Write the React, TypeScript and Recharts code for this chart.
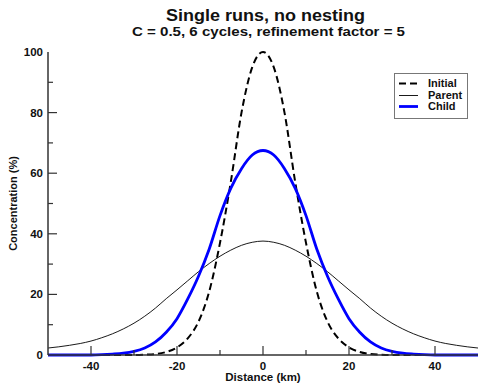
import React from 'react';
import { LineChart, Line, XAxis, YAxis, Legend } from 'recharts';

// distance along the domain (km)
const distances = [
  -50, -47.5, -45, -42.5, -40, -37.5, -35, -32.5, -30, -27.5, -25, -22.5, -20, -17.5, -15, -12.5, -10, -7.5, -5, -2.5,
  0,
  2.5, 5, 7.5, 10, 12.5, 15, 17.5, 20, 22.5, 25, 27.5, 30, 32.5, 35, 37.5, 40, 42.5, 45, 47.5, 50,
];

const initialValues = [
  0, 0, 0, 0, 0, 0, 0, 0, 0, 0.1, 0.3, 1, 2.5, 5.5, 11, 21, 37, 57, 80, 95,
  100,
  95, 80, 57, 37, 21, 11, 5.5, 2.5, 1, 0.3, 0.1, 0, 0, 0, 0, 0, 0, 0, 0, 0,
];

const parentValues = [
  2.3, 2.7, 3.2, 3.8, 4.6, 5.7, 7.0, 8.6, 10.5, 12.8, 15.5, 18.6, 21.5, 24.5, 27.5, 30.2, 32.6, 34.6, 36.2, 37.2,
  37.6,
  37.2, 36.2, 34.6, 32.6, 30.2, 27.5, 24.5, 21.5, 18.6, 15.5, 12.8, 10.5, 8.6, 7.0, 5.7, 4.6, 3.8, 3.2, 2.7, 2.3,
];

const childValues = [
  0, 0, 0, 0, 0, 0.1, 0.3, 0.6, 1.2, 2.3, 4.3, 7.5, 12, 18.5, 26, 35, 46, 55, 61.5, 66,
  67.5,
  66, 61.5, 55, 46, 35, 26, 18.5, 12, 7.5, 4.3, 2.3, 1.2, 0.6, 0.3, 0.1, 0, 0, 0, 0, 0,
];

const xTicks = [-40, -30, -20, -10, 0, 10, 20, 30, 40];
const yTicks = [0, 10, 20, 30, 40, 50, 60, 70, 80, 90, 100];

const series = [
  { key: 'initial', name: 'Initial', color: '#000000', width: 2, dash: '7 4' },
  { key: 'parent', name: 'Parent', color: '#000000', width: 0.9, dash: undefined },
  { key: 'child', name: 'Child', color: '#0000ff', width: 2.8, dash: undefined },
];

const data = distances.map((x, i) => ({
  x,
  initial: initialValues[i],
  parent: parentValues[i],
  child: childValues[i],
}));

const FONT = '"Liberation Sans", Arial, Helvetica, sans-serif';
const AXIS = '#333333';
const GAP = 4;

const isMajor = (v: number) => v % 20 === 0;

const BottomTick = (props: any) => {
  const { x, y, payload } = props;
  const v = payload.value;
  const axisY = y - GAP;
  return (
    <g>
      <line x1={x} x2={x} y1={axisY} y2={axisY - (isMajor(v) ? 9 : 5)} stroke={AXIS} strokeWidth={1.2} />
      {isMajor(v) && (
        <text x={x} y={axisY + 14.5} textAnchor="middle" fontSize={11.5} fontWeight="bold" fontFamily={FONT} fill="#111">
          {v}
        </text>
      )}
    </g>
  );
};

const TopTick = (props: any) => {
  const { x, y, payload } = props;
  const axisY = y + GAP;
  return <line x1={x} x2={x} y1={axisY} y2={axisY + (isMajor(payload.value) ? 9 : 5)} stroke={AXIS} strokeWidth={1.2} />;
};

const LeftTick = (props: any) => {
  const { x, y, payload } = props;
  const v = payload.value;
  const axisX = x + GAP;
  return (
    <g>
      {v > 0 && v < 100 && (
        <line x1={axisX} x2={axisX + (isMajor(v) ? 9 : 5)} y1={y} y2={y} stroke={AXIS} strokeWidth={1.2} />
      )}
      {isMajor(v) && (
        <text x={axisX - 5} y={y + 4} textAnchor="end" fontSize={11.5} fontWeight="bold" fontFamily={FONT} fill="#111">
          {v}
        </text>
      )}
    </g>
  );
};

const RightTick = (props: any) => {
  const { x, y, payload } = props;
  const v = payload.value;
  const axisX = x - GAP;
  if (v <= 0 || v >= 100) return <g />;
  return <line x1={axisX} x2={axisX - (isMajor(v) ? 9 : 5)} y1={y} y2={y} stroke={AXIS} strokeWidth={1.2} />;
};

const renderLegend = () => (
  <div
    style={{
      border: '1px solid #777',
      background: '#fff',
      boxSizing: 'border-box',
      width: 74,
      height: 46,
      padding: '4px 0 0 3px',
      fontFamily: FONT,
      fontWeight: 'bold',
      fontSize: 11,
      color: '#111',
    }}
  >
    {series.map((s) => (
      <div key={s.key} style={{ display: 'flex', alignItems: 'center', height: 11.5 }}>
        <svg width={22} height={11} style={{ display: 'block' }}>
          <line x1={1} x2={20} y1={5.5} y2={5.5} stroke={s.color} strokeWidth={s.width} strokeDasharray={s.dash} />
        </svg>
        <span style={{ marginLeft: 8, lineHeight: '11px' }}>{s.name}</span>
      </div>
    ))}
  </div>
);

export default function App() {
  return (
    <div style={{ position: 'absolute', left: 0, top: 0, width: 479, height: 383, overflow: 'hidden', background: '#fff', fontFamily: FONT }}>
      <svg width={479} height={40} style={{ position: 'absolute', left: 0, top: 0 }}>
        <text x={265.5} y={21} textAnchor="middle" fontSize={17} fontWeight="bold" fontFamily={FONT} fill="#111" textLength={199} lengthAdjust="spacingAndGlyphs">
          Single runs, no nesting
        </text>
        <text x={268.5} y={35.5} textAnchor="middle" fontSize={13} fontWeight="bold" fontFamily={FONT} fill="#111" textLength={273} lengthAdjust="spacingAndGlyphs">
          C = 0.5, 6 cycles, refinement factor = 5
        </text>
      </svg>
      <LineChart width={479} height={383} data={data} margin={{ top: 52, right: 1, bottom: 8, left: 0 }}>
        <XAxis
          dataKey="x"
          type="number"
          domain={[-50, 50]}
          ticks={xTicks}
          interval={0}
          height={20}
          tickSize={0}
          tickMargin={GAP}
          tick={<BottomTick />}
          axisLine={{ stroke: AXIS, strokeWidth: 1.5 }}
          label={{ value: 'Distance (km)', position: 'bottom', offset: -2.5, fontSize: 11.5, fontWeight: 'bold', fontFamily: FONT, fill: '#111' }}
        />
        <XAxis
          xAxisId="top"
          orientation="top"
          dataKey="x"
          type="number"
          domain={[-50, 50]}
          ticks={xTicks}
          interval={0}
          height={0}
          tickSize={0}
          tickMargin={GAP}
          tick={<TopTick />}
          axisLine={{ stroke: AXIS, strokeWidth: 1.5 }}
        />
        <YAxis
          type="number"
          domain={[0, 100]}
          ticks={yTicks}
          interval={0}
          width={48}
          tickSize={0}
          tickMargin={GAP}
          tick={<LeftTick />}
          axisLine={{ stroke: AXIS, strokeWidth: 1.5 }}
          label={{
            value: 'Concentration (%)',
            angle: -90,
            position: 'insideLeft',
            offset: 13,
            style: { textAnchor: 'middle' },
            fontSize: 11,
            fontWeight: 'bold',
            fontFamily: FONT,
            fill: '#111',
          }}
        />
        <YAxis
          yAxisId="right"
          orientation="right"
          type="number"
          domain={[0, 100]}
          ticks={yTicks}
          interval={0}
          width={0}
          tickSize={0}
          tickMargin={GAP}
          tick={<RightTick />}
          axisLine={{ stroke: AXIS, strokeWidth: 1.5 }}
        />
        <Legend
          layout="vertical"
          align="center"
          verticalAlign="middle"
          content={renderLegend}
          wrapperStyle={{ position: 'absolute', left: 394, top: 73, width: 74, height: 46 }}
        />
        {series.map((s) => (
          <Line
            key={s.key}
            type="monotone"
            dataKey={s.key}
            name={s.name}
            stroke={s.color}
            strokeWidth={s.width}
            strokeDasharray={s.dash}
            dot={false}
            activeDot={false}
            isAnimationActive={false}
          />
        ))}
      </LineChart>
    </div>
  );
}
